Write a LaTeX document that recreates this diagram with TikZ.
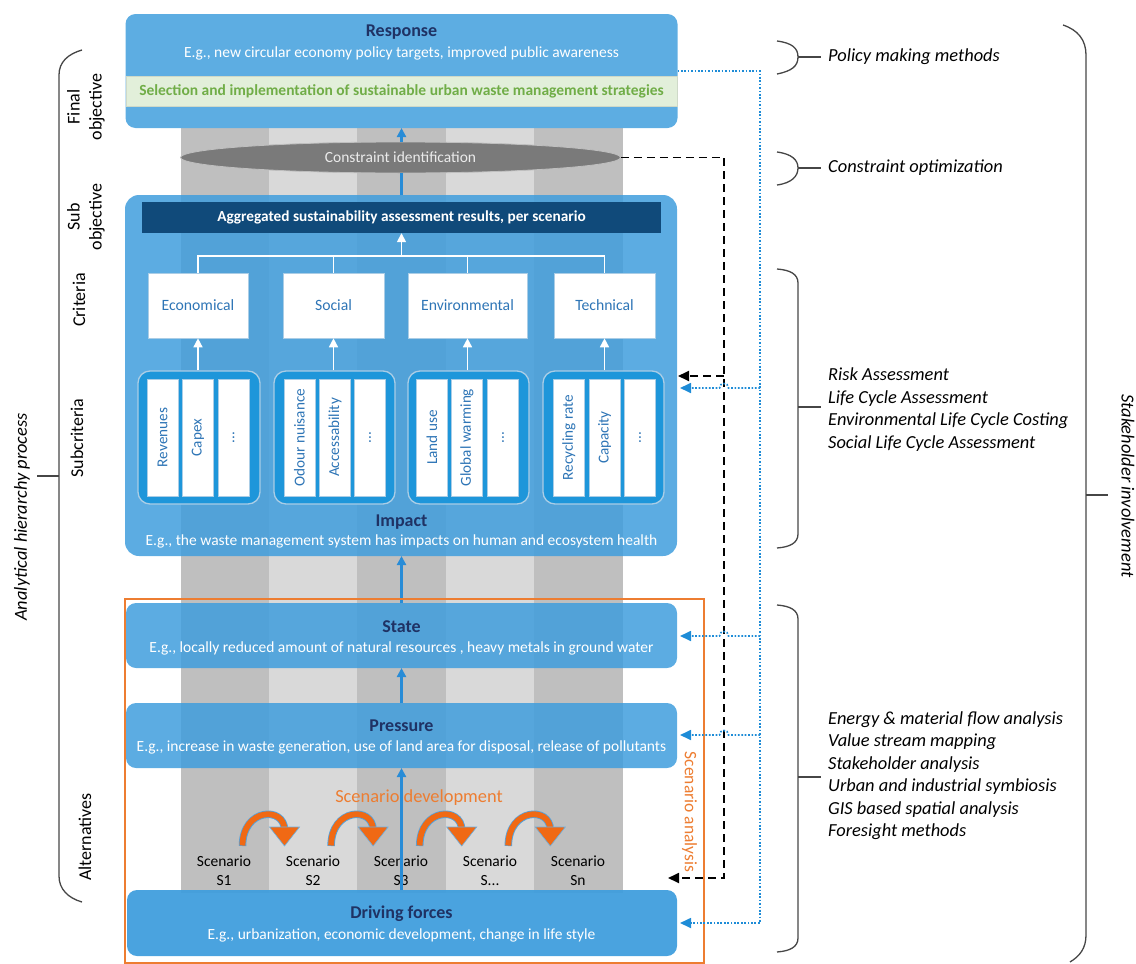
\documentclass[tikz,border=0pt]{standalone}
\usepackage{fontspec}
\setmainfont{Carlito}
\usetikzlibrary{arrows.meta,shapes.geometric,calc}
\definecolor{boxblue}{RGB}{64,158,221}
\definecolor{respblue}{RGB}{93,173,226}
\definecolor{navy}{RGB}{31,50,100}
\definecolor{aggrblue}{RGB}{16,74,122}
\definecolor{bandgreen}{RGB}{226,239,218}
\definecolor{textgreen}{RGB}{112,173,71}
\definecolor{critblue}{RGB}{46,117,182}
\definecolor{grpblue}{RGB}{30,150,218}
\definecolor{grpedge}{RGB}{170,205,230}
\definecolor{stripeD}{RGB}{191,191,191}
\definecolor{stripeL}{RGB}{217,217,217}
\definecolor{arrblue}{RGB}{40,140,215}
\definecolor{dotblue}{RGB}{30,140,215}
\definecolor{orng}{RGB}{237,125,49}
\definecolor{arcorange}{RGB}{240,105,20}
\definecolor{bracegray}{RGB}{70,70,70}
\definecolor{ellgray}{RGB}{122,122,122}
\newcommand\fsz[2]{\fontsize{#1}{#2}\selectfont}
\begin{document}
\begin{tikzpicture}[x=1pt,y=-1pt,
  box/.style={rectangle, rounded corners=10pt, fill=boxblue, fill opacity=0.85, inner sep=0pt, outer sep=0pt},
  ttl/.style={font=\fsz{18}{22}\bfseries, text=navy, inner sep=0pt},
  subt/.style={font=\fsz{15.5}{18}, text=white, inner sep=0pt},
  crit/.style={rectangle, fill=white, draw=grpedge, line width=0.6pt, minimum height=65pt, inner sep=0pt, font=\fsz{15.7}{18}, text=critblue},
  grp/.style={rectangle, rounded corners=12pt, fill=grpblue, draw=grpedge, line width=1.3pt, minimum height=133pt, inner sep=0pt},
  col/.style={rectangle, fill=white, draw=grpedge, line width=0.5pt, minimum width=31pt, minimum height=117pt, inner sep=0pt},
  coltext/.style={rotate=90, font=\fsz{15.2}{18}, text=critblue, inner sep=0pt},
  whiteline/.style={draw=white, line width=1.5pt},
  whitearr/.style={draw=white, line width=1.5pt, -{Triangle[length=9pt,width=9pt]}},
  blueline/.style={draw=arrblue, line width=2.2pt},
  blueup/.style={draw=arrblue, line width=2.2pt, -{Triangle[length=9pt,width=9pt]}},
  blackdash/.style={draw=black, line width=1.8pt, dash pattern=on 8pt off 5pt},
  bluedot/.style={draw=dotblue, line width=1.7pt, dash pattern=on 1.7pt off 1.7pt},
  tipk/.style={-{Triangle[length=11pt,width=10pt]}},
  tipb/.style={-{Triangle[length=11pt,width=10pt]}},
  brace/.style={draw=bracegray, line width=1.3pt},
  rtext/.style={font=\fsz{18.4}{22.5}\itshape, anchor=west, inner sep=0pt, align=left},
  cat/.style={rotate=90, font=\fsz{18}{22}, align=center, inner sep=0pt},
  scen/.style={font=\fsz{15.5}{19}, align=center, inner sep=0pt}
]
\useasboundingbox (0,0) rectangle (1136,964);

% background stripes
\fill[stripeD] (181,128) rectangle (269,893);
\fill[stripeL] (269,128) rectangle (357,893);
\fill[stripeD] (357,128) rectangle (446,893);
\fill[stripeL] (446,128) rectangle (534,893);
\fill[stripeD] (534,128) rectangle (623,893);

% Response
\node[box, fill=respblue, fill opacity=1, minimum width=552pt, minimum height=114pt] (resp) at (401.5,71) {};
\node[ttl] (respt) at (401.5,32) {Response};
\node[subt] (resps) at (401.5,53) {E.g., new circular economy policy targets, improved public awareness};
\node[rectangle, fill=bandgreen, draw=bandgreen!80!gray, line width=0.5pt, minimum width=551pt, minimum height=30pt, inner sep=0pt, font=\fsz{15.5}{18}\bfseries, text=textgreen] (band) at (401.5,91.5) {Selection and implementation of sustainable urban waste management strategies};

% Constraint ellipse
\node[ellipse, fill=ellgray, draw=gray!50, line width=0.8pt, minimum width=440pt, minimum height=31pt, inner sep=0pt, text=white!92!black, font=\fsz{15.5}{18}] (cons) at (400.5,157.5) {Constraint identification};

% Impact box
\node[box, rounded corners=14pt, minimum width=552pt, minimum height=361pt] (impact) at (401,375.5) {};
\node[rectangle, fill=aggrblue, minimum width=519pt, minimum height=31pt, inner sep=0pt, text=white, font=\fsz{15.3}{18}\bfseries] (aggr) at (401.5,217.5) {Aggregated sustainability assessment results, per scenario};

\node[crit, minimum width=100pt] (econ) at (198,305.5) {Economical};
\node[crit, minimum width=101pt] (soc) at (333.5,305.5) {Social};
\node[crit, minimum width=119pt] (env) at (467.5,305.5) {Environmental};
\node[crit, minimum width=101pt] (tech) at (604.5,305.5) {Technical};

\node[grp, minimum width=122pt] (g1) at (199,437.5) {};
\node[grp, minimum width=121pt] (g2) at (334.5,437.5) {};
\node[grp, minimum width=121pt] (g3) at (468.5,437.5) {};
\node[grp, minimum width=121pt] (g4) at (603.5,437.5) {};

\node[col] (c11) at (162.5,437.5) {};
\node[col] (c12) at (198,437.5) {};
\node[col] (c13) at (233.5,437.5) {};
\node[col] (c21) at (299.5,437.5) {};
\node[col] (c22) at (335,437.5) {};
\node[col] (c23) at (370,437.5) {};
\node[col] (c31) at (432,437.5) {};
\node[col] (c32) at (467,437.5) {};
\node[col] (c33) at (503,437.5) {};
\node[col] (c41) at (569,437.5) {};
\node[col] (c42) at (604.5,437.5) {};
\node[col] (c43) at (640,437.5) {};

\node[coltext] (t11) at (c11) {Revenues};
\node[coltext] (t12) at (c12) {Capex};
\node[coltext] (t13) at (c13) {...};
\node[coltext] (t21) at (c21) {Odour nuisance};
\node[coltext] (t22) at (c22) {Accessability};
\node[coltext] (t23) at (c23) {...};
\node[coltext] (t31) at (c31) {Land use};
\node[coltext] (t32) at (c32) {Global warming};
\node[coltext] (t33) at (c33) {...};
\node[coltext] (t41) at (c41) {Recycling rate};
\node[coltext] (t42) at (c42) {Capacity};
\node[coltext] (t43) at (c43) {...};

\coordinate (hl) at (401.5,256);
\draw[whiteline] (econ.north) -- (econ.north |- hl) -- (tech.north |- hl) -- (tech.north);
\draw[whiteline] (soc.north) -- (soc.north |- hl);
\draw[whiteline] (env.north) -- (env.north |- hl);
\draw[whitearr] (hl) -- (aggr.south);
\draw[whitearr] (econ.south |- g1.north) -- (econ.south);
\draw[whitearr] (soc.south |- g2.north) -- (soc.south);
\draw[whitearr] (env.south |- g3.north) -- (env.south);
\draw[whitearr] (tech.south |- g4.north) -- (tech.south);

\node[ttl] (impt) at (401.5,522) {Impact};
\node[subt] (imps) at (401.5,541) {E.g., the waste management system has impacts on human and ecosystem health};

% State, Pressure, Driving forces
\node[box, minimum width=551pt, minimum height=65pt] (state) at (401.5,635.5) {};
\node[ttl] (statet) at (401.5,627) {State};
\node[subt] (states) at (401.5,648) {E.g., locally reduced amount of natural resources , heavy metals in ground water};

\node[box, minimum width=551pt, minimum height=65pt] (press) at (401.5,735.5) {};
\node[ttl] (presst) at (401.5,726) {Pressure};
\node[subt] (presss) at (401.5,747) {E.g., increase in waste generation, use of land area for disposal, release of pollutants};

\node[box, fill opacity=0.95, minimum width=550pt, minimum height=66pt] (drive) at (402,923) {};
\node[ttl] (drivet) at (401.5,914) {Driving forces};
\node[subt] (drives) at (401.5,935) {E.g., urbanization, economic development, change in life style};

% Scenario development
\node[font=\fsz{18.4}{22}, text=orng, inner sep=0pt] (sdev) at (419,798) {Scenario development};
\foreach \i in {0,...,3} {
  \pgfmathsetmacro\xa{242.5+88.6*\i}
  \draw[line width=7.5pt, draw=arrblue!80] (\xa,846) .. controls (\xa,808) and ({\xa+42},806) .. ({\xa+42},830);
  \draw[line width=5.8pt, draw=arcorange] (\xa,845.5) .. controls (\xa,808) and ({\xa+42},806) .. ({\xa+42},830);
  \filldraw[fill=arcorange, draw=arrblue!70, line width=0.6pt] ({\xa+27},827) -- ({\xa+57},827) -- ({\xa+42},846) -- cycle;
}
\node[scen] (s1) at (224,870.5) {Scenario\\S1};
\node[scen] (s2) at (313,870.5) {Scenario\\S2};
\node[scen] (s3) at (401,870.5) {Scenario\\S3};
\node[scen] (s4) at (490,870.5) {Scenario\\S...};
\node[scen] (s5) at (578,870.5) {Scenario\\Sn};

% vertical flow arrows
\draw[blueup] (drive.north -| press.south) -- (press.south);
\draw[blueup] (press.north) -- (state.south);
\draw[blueup] (state.north) -- (impact.south -| state.north);
\draw[blueline] (impact.north -| state.north) -- (cons.south -| state.north);
\draw[blueup] (cons.north -| state.north) -- (resp.south -| state.north);

% scenario analysis frame
\node[draw=orng, line width=1.3pt, minimum width=579pt, minimum height=364pt, inner sep=0pt] (frame) at (414.5,781) {};
\node[rotate=-90, font=\fsz{17.5}{20}, text=orng, inner sep=0pt] (sana) at (689.5,812) {Scenario analysis};

% black dashed feedback
\coordinate (dkb) at (724,878);
\coordinate (scn) at (668,878);
\coordinate (dki) at (724,376);
\draw[blackdash, tipk] (cons.east) -| (dkb) -- (scn);
\draw[blackdash, tipk] (dki) -- ([xshift=1pt]impact.east |- dki);

% blue dotted
\coordinate (bv1) at (760,71);
\coordinate (bv2) at (760,923);
\coordinate (bvi) at (760,388);
\coordinate (bvs) at (760,636);
\coordinate (bvp) at (760,735);
\draw[bluedot, tipb] (resp.east) -- (bv1) -- (bv2) -- ([xshift=3pt]drive.east);
\draw[bluedot, tipb] (bvi) -- (728.5,388) .. controls (728.5,382) and (719.5,382) .. (719.5,388) -- ([xshift=3pt]impact.east |- bvi);
\draw[bluedot, tipb] (bvs) -- (728.5,636) .. controls (728.5,630) and (719.5,630) .. (719.5,636) -- ([xshift=3pt]state.east |- bvs);
\draw[bluedot, tipb] (bvp) -- (728.5,735) .. controls (728.5,729) and (719.5,729) .. (719.5,735) -- ([xshift=3pt]press.east |- bvp);

% right braces and texts
\draw[brace] (777,41) .. controls (792,43) and (798,48) .. (798,57) .. controls (798,66) and (792,71) .. (777,74);
\draw[brace] (798,57) -- (821,57);
\node[rtext] (pm) at (828,57) {Policy making methods};

\draw[brace] (777,152) .. controls (792,154) and (798,160) .. (798,168) .. controls (798,176) and (792,183) .. (777,185);
\draw[brace] (798,168) -- (821,168);
\node[rtext] (co) at (828,168) {Constraint optimization};

\draw[brace] (777,269) .. controls (790,270) and (798,274) .. (798,283) -- (798,534) .. controls (798,543) and (790,547) .. (777,548);
\draw[brace] (798,407) -- (821,407);
\node[rtext] (ra) at (828,409.5) {Risk Assessment\\Life Cycle Assessment\\Environmental Life Cycle Costing\\Social Life Cycle Assessment};

\draw[brace] (777,605) .. controls (790,606) and (798,610) .. (798,619) -- (798,938) .. controls (798,947) and (790,951) .. (777,952);
\draw[brace] (798,777) -- (821,777);
\node[rtext] (ef) at (828,775.5) {Energy \& material flow analysis\\Value stream mapping\\Stakeholder analysis\\Urban and industrial symbiosis\\GIS based spatial analysis\\Foresight methods};

\draw[brace] (1063,25) .. controls (1078,30) and (1086,40) .. (1086,55) -- (1086,935) .. controls (1086,948) and (1080,956) .. (1070,962);
\draw[brace] (1086,495) -- (1108,495);
\node[rotate=-90, font=\fsz{18.4}{22}\itshape, inner sep=0pt] (sh) at (1128,486) {Stakeholder involvement};

% left brace and labels
\draw[brace] (82,50) .. controls (68,54) and (59,62) .. (59,75) -- (59,876) .. controls (59,889) and (68,898) .. (82,902);
\draw[brace] (59,476) -- (37,476);
\node[rotate=90, font=\fsz{18.4}{22}\itshape, inner sep=0pt] (ahp) at (22,517) {Analytical hierarchy process};
\node[cat] (lfo) at (86,107) {Final\\objective};
\node[cat] (lso) at (86,217) {Sub\\objective};
\node[cat] (lcr) at (79,300) {Criteria};
\node[cat] (lsc) at (77,438) {Subcriteria};
\node[cat] (lal) at (85,837) {Alternatives};
\end{tikzpicture}
\end{document}
